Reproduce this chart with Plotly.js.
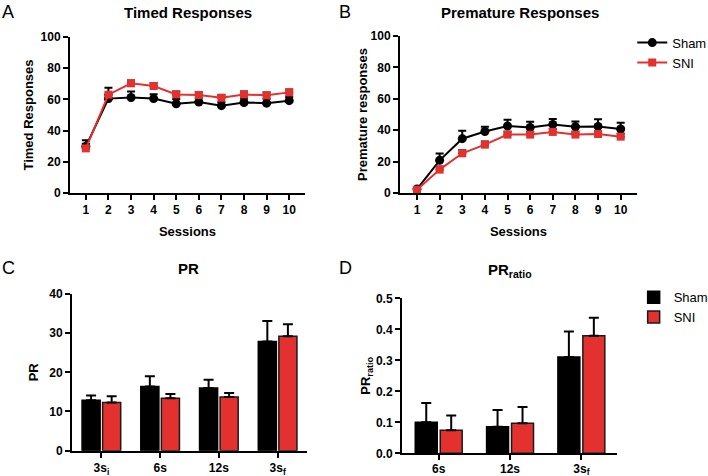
<!DOCTYPE html>
<html>
<head>
<meta charset="utf-8">
<script src="https://cdn.plot.ly/plotly-3.0.1.min.js"></script>
<style>html,body{margin:0;padding:0;background:#fff;}#chart{width:708px;height:476px;}</style>
</head>
<body>
<div id="chart"></div>
<script>
// ---- Data ----
const sessions = [1, 2, 3, 4, 5, 6, 7, 8, 9, 10];

const timedSham = [29.8, 60.5, 61.2, 60.5, 57.2, 58.3, 56.0, 58.0, 57.6, 59.2];
const timedShamErr = [4.0, 2.5, 3.8, 2.8, 3.0, 2.5, 2.2, 2.5, 2.8, 2.3];
const timedSNI = [28.6, 63.0, 70.3, 68.6, 63.2, 62.8, 61.1, 63.2, 62.6, 64.5];
const timedSNIErr = [3.0, 4.5, 1.8, 1.8, 1.8, 1.8, 1.8, 1.8, 1.8, 1.8];

const premSham = [2.5, 20.8, 34.6, 39.2, 42.7, 41.8, 43.7, 42.2, 42.4, 40.8];
const premShamErr = [1.0, 4.4, 5.0, 3.0, 4.0, 3.6, 3.4, 3.4, 4.6, 4.0];
const premSNI = [2.1, 14.9, 25.3, 30.8, 37.2, 37.2, 38.9, 37.2, 37.6, 35.9];
const premSNIErr = [1.0, 2.0, 2.0, 2.0, 1.8, 1.8, 1.8, 1.8, 1.8, 1.8];

const prCategories = ["3s<sub>i</sub>", "6s", "12s", "3s<sub>f</sub>"];
const prSham = [12.9, 16.4, 16.0, 27.9];
const prShamErr = [1.2, 2.6, 2.1, 5.2];
const prSNI = [12.3, 13.4, 13.7, 29.2];
const prSNIErr = [1.6, 1.1, 1.0, 3.1];

const ratioCategories = ["6s", "12s", "3s<sub>f</sub>"];
const ratioSham = [0.100, 0.086, 0.311];
const ratioShamErr = [0.062, 0.054, 0.082];
const ratioSNI = [0.074, 0.097, 0.379];
const ratioSNIErr = [0.048, 0.052, 0.058];

// ---- Styles ----
const RED = '#E2312F';
const FONT = 'Liberation Sans, Arial, Helvetica, sans-serif';
const zeros = a => a.map(() => 0);
const upErr = (a, w) => ({type: 'data', symmetric: false, array: a, arrayminus: zeros(a), color: '#000', thickness: 2, width: w});

const traces = [
  {x: sessions, y: timedSham, xaxis: 'x', yaxis: 'y', type: 'scatter', mode: 'lines+markers', name: 'Sham',
   line: {color: '#000', width: 2}, marker: {symbol: 'circle', size: 9, color: '#000'},
   error_y: upErr(timedShamErr, 4), legend: 'legend', showlegend: false},
  {x: sessions, y: timedSNI, xaxis: 'x', yaxis: 'y', type: 'scatter', mode: 'lines+markers', name: 'SNI',
   line: {color: RED, width: 2}, marker: {symbol: 'square', size: 8, color: RED},
   error_y: upErr(timedSNIErr, 4), legend: 'legend', showlegend: false},
  {x: sessions, y: premSham, xaxis: 'x2', yaxis: 'y2', type: 'scatter', mode: 'lines+markers', name: 'Sham',
   line: {color: '#000', width: 2}, marker: {symbol: 'circle', size: 9, color: '#000'},
   error_y: upErr(premShamErr, 4), legend: 'legend'},
  {x: sessions, y: premSNI, xaxis: 'x2', yaxis: 'y2', type: 'scatter', mode: 'lines+markers', name: 'SNI',
   line: {color: RED, width: 2}, marker: {symbol: 'square', size: 8, color: RED},
   error_y: upErr(premSNIErr, 4), legend: 'legend'},
  {x: prCategories, y: prSham, xaxis: 'x3', yaxis: 'y3', type: 'bar', name: 'Sham',
   marker: {color: '#000', line: {color: '#000', width: 1.5}}, error_y: upErr(prShamErr, 5),
   legend: 'legend2', showlegend: false},
  {x: prCategories, y: prSNI, xaxis: 'x3', yaxis: 'y3', type: 'bar', name: 'SNI',
   marker: {color: RED, line: {color: '#1a1a1a', width: 1.5}}, error_y: upErr(prSNIErr, 5),
   legend: 'legend2', showlegend: false},
  {x: ratioCategories, y: ratioSham, xaxis: 'x4', yaxis: 'y4', type: 'bar', name: 'Sham',
   marker: {color: '#000', line: {color: '#000', width: 1.5}}, error_y: upErr(ratioShamErr, 5),
   legend: 'legend2'},
  {x: ratioCategories, y: ratioSNI, xaxis: 'x4', yaxis: 'y4', type: 'bar', name: 'SNI',
   marker: {color: RED, line: {color: '#1a1a1a', width: 1.5}}, error_y: upErr(ratioSNIErr, 5),
   legend: 'legend2'}
];

const tickFont = {family: FONT, size: 12, color: '#000', weight: 'bold'};
const titleFont = {family: FONT, size: 13, color: '#000', weight: 'bold'};
const axisBase = {
  showline: true, linecolor: '#000', linewidth: 2, ticks: 'outside', ticklen: 5, tickwidth: 2,
  tickcolor: '#000', showgrid: false, zeroline: false, tickfont: tickFont, fixedrange: true
};
const ax = o => Object.assign({}, axisBase, o);
const ann = (text, px, py, font) => ({text: text, x: px / 708, y: 1 - py / 476, xref: 'paper', yref: 'paper',
  xanchor: 'center', yanchor: 'middle', showarrow: false, font: font});
const letterFont = {family: FONT, size: 18, color: '#000'};
const panelFont = {family: FONT, size: 15, color: '#000', weight: 'bold'};
const legendFont = {family: FONT, size: 13, color: '#000'};

const layout = {
  width: 708, height: 476,
  margin: {l: 0, r: 0, t: 0, b: 0, autoexpand: false},
  paper_bgcolor: '#fff', plot_bgcolor: '#fff',
  font: {family: FONT, color: '#000'},
  barmode: 'group', bargap: 0.3, bargroupgap: 0.12,
  xaxis: ax({domain: [0.0989, 0.4308], anchor: 'y', range: [0.3, 10.7], tickvals: sessions,
    title: {text: 'Sessions', font: titleFont, standoff: 10}}),
  yaxis: ax({domain: [0.5945, 0.9223], anchor: 'x', range: [0, 100], dtick: 20,
    title: {text: 'Timed Responses', font: titleFont, standoff: 4}}),
  xaxis2: ax({domain: [0.565, 0.8997], anchor: 'y2', range: [0.25, 10.72], tickvals: sessions,
    title: {text: 'Sessions', font: titleFont, standoff: 10}}),
  yaxis2: ax({domain: [0.5945, 0.9244], anchor: 'x2', range: [0, 100], dtick: 20,
    title: {text: 'Premature responses', font: titleFont, standoff: 0}}),
  xaxis3: ax({domain: [0.1017, 0.4336], anchor: 'y3', type: 'category', range: [-0.5, 3.5]}),
  yaxis3: ax({domain: [0.0532, 0.3824], anchor: 'x3', range: [0, 40], dtick: 10,
    title: {text: 'PR', font: titleFont, standoff: 8}}),
  xaxis4: ax({domain: [0.5678, 0.8715], anchor: 'y4', type: 'category', range: [-0.515, 2.5], ticklabelstandoff: -2}),
  yaxis4: ax({domain: [0.0477, 0.3733], anchor: 'x4', range: [0, 0.5], dtick: 0.1, tickformat: '.1f',
    title: {text: 'PR<sub>ratio</sub>', font: titleFont, standoff: 2}}),
  legend: {x: 0.893, y: 0.942, xanchor: 'left', yanchor: 'top', bgcolor: 'rgba(0,0,0,0)',
    font: legendFont, tracegroupgap: 0, itemwidth: 30},
  legend2: {x: 0.895, y: 0.407, xanchor: 'left', yanchor: 'top', bgcolor: 'rgba(0,0,0,0)',
    font: legendFont, tracegroupgap: 0, itemwidth: 30},
  annotations: [
    ann('A', 8, 12, letterFont),
    ann('B', 345, 12, letterFont),
    ann('C', 8, 268, letterFont),
    ann('D', 345, 268, letterFont),
    ann('Timed Responses', 188, 12, panelFont),
    ann('Premature Responses', 520, 12, panelFont),
    ann('PR', 188, 268, panelFont),
    ann('PR<sub>ratio</sub>', 510, 270, panelFont)
  ]
};

Plotly.newPlot('chart', traces, layout, {displayModeBar: false, staticPlot: true});
</script>
</body>
</html>
